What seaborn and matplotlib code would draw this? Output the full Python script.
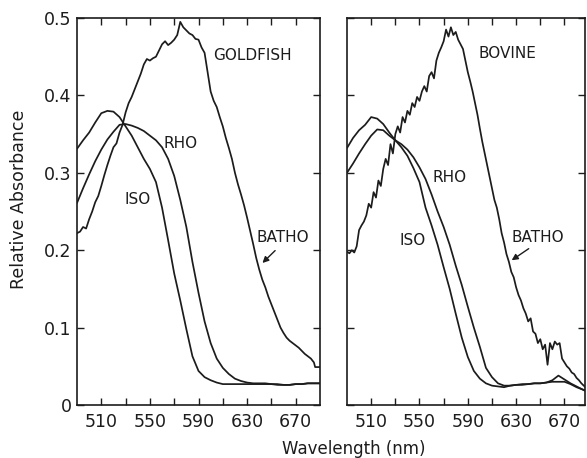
import numpy as np
import pandas as pd
import matplotlib
matplotlib.use("Agg")
import matplotlib.pyplot as plt
import seaborn as sns

# ---------------- data ----------------
# Goldfish panel
gold_x5 = list(range(490, 691, 5))
gold_iso = [0.331, 0.342, 0.352, 0.365, 0.377, 0.380, 0.379, 0.372, 0.360, 0.348,
            0.333, 0.318, 0.305, 0.288, 0.255, 0.213, 0.170, 0.135, 0.098, 0.063,
            0.044, 0.036, 0.032, 0.029, 0.027, 0.027, 0.027, 0.027, 0.027, 0.027,
            0.027, 0.027, 0.027, 0.026, 0.026, 0.026, 0.027, 0.027, 0.028, 0.028, 0.028]
gold_rho = [0.261, 0.280, 0.298, 0.315, 0.330, 0.343, 0.353, 0.362, 0.363, 0.361,
            0.358, 0.354, 0.348, 0.342, 0.333, 0.318, 0.296, 0.265, 0.230, 0.185,
            0.145, 0.108, 0.080, 0.060, 0.048, 0.040, 0.034, 0.031, 0.029, 0.028,
            0.028, 0.028, 0.027, 0.027, 0.026, 0.026, 0.027, 0.027, 0.028, 0.028, 0.028]
gold_batho_x = [490, 492.5, 495, 497.5, 500, 502.5, 505, 507.5, 510, 512.5, 515, 517.5,
                520, 522.5, 525, 527.5, 530, 532.5, 535, 537.5, 540, 542.5, 545, 547.5,
                550, 552.5, 555, 557.5, 560, 562.5, 565, 567.5, 570, 572.5, 575, 577.5,
                580, 582.5, 585, 587.5, 590, 592.5, 595, 597.5, 600, 602.5, 605, 607.5,
                610, 612.5, 615, 617.5, 620, 622.5, 625, 627.5, 630, 632.5, 635, 637.5,
                640, 642.5, 645, 647.5, 650, 652.5, 655, 657.5, 660, 662.5, 665, 667.5,
                670, 672.5, 675, 677.5, 680, 682.5, 685, 686, 690]
gold_batho = [0.222, 0.224, 0.230, 0.228, 0.240, 0.250, 0.262, 0.270, 0.283, 0.297, 0.310, 0.322,
              0.333, 0.338, 0.352, 0.362, 0.378, 0.390, 0.398, 0.408, 0.418, 0.428, 0.440, 0.447,
              0.445, 0.448, 0.450, 0.458, 0.466, 0.470, 0.465, 0.468, 0.472, 0.478, 0.495, 0.488,
              0.484, 0.480, 0.478, 0.473, 0.472, 0.462, 0.455, 0.430, 0.405, 0.393, 0.385, 0.372,
              0.360, 0.345, 0.332, 0.318, 0.300, 0.285, 0.272, 0.258, 0.242, 0.225, 0.208, 0.190,
              0.175, 0.162, 0.152, 0.140, 0.130, 0.120, 0.110, 0.100, 0.093, 0.087, 0.083, 0.080,
              0.077, 0.074, 0.070, 0.066, 0.063, 0.060, 0.055, 0.049, 0.049]

# Bovine panel
bov_x5 = list(range(490, 691, 5))
bov_iso = [0.332, 0.345, 0.355, 0.362, 0.372, 0.370, 0.363, 0.352, 0.342, 0.333,
           0.322, 0.306, 0.288, 0.255, 0.232, 0.207, 0.178, 0.150, 0.118, 0.087,
           0.062, 0.044, 0.034, 0.028, 0.025, 0.024, 0.023, 0.025, 0.026, 0.026,
           0.027, 0.028, 0.028, 0.029, 0.032, 0.038, 0.033, 0.028, 0.024, 0.020, 0.018]
bov_rho = [0.300, 0.312, 0.325, 0.337, 0.348, 0.356, 0.355, 0.348, 0.342, 0.337,
           0.330, 0.320, 0.307, 0.292, 0.272, 0.250, 0.230, 0.207, 0.180, 0.155,
           0.127, 0.100, 0.075, 0.048, 0.036, 0.028, 0.025, 0.025, 0.026, 0.027,
           0.027, 0.028, 0.028, 0.029, 0.030, 0.030, 0.030, 0.027, 0.023, 0.020, 0.016]
bov_batho_x = list(range(490, 691, 2))
bov_batho = [0.198, 0.196, 0.200, 0.197, 0.205, 0.226, 0.232, 0.237, 0.245, 0.260,
             0.255, 0.275, 0.268, 0.290, 0.283, 0.305, 0.318, 0.310, 0.337, 0.325,
             0.350, 0.360, 0.352, 0.372, 0.365, 0.380, 0.375, 0.390, 0.385, 0.398,
             0.393, 0.405, 0.412, 0.405, 0.425, 0.430, 0.422, 0.445, 0.455, 0.462,
             0.470, 0.485, 0.476, 0.488, 0.478, 0.482, 0.472, 0.466, 0.460, 0.445,
             0.430, 0.418, 0.405, 0.390, 0.375, 0.357, 0.340, 0.325, 0.310, 0.295,
             0.280, 0.265, 0.255, 0.240, 0.222, 0.210, 0.195, 0.185, 0.172, 0.165,
             0.152, 0.142, 0.135, 0.125, 0.118, 0.108, 0.112, 0.095, 0.092, 0.080,
             0.085, 0.072, 0.078, 0.052, 0.080, 0.072, 0.082, 0.078, 0.080, 0.060,
             0.055, 0.050, 0.047, 0.042, 0.040, 0.035, 0.032, 0.028, 0.025, 0.022, 0.020]

x_major = [510, 550, 590, 630, 670]
x_minor = [530, 570, 610, 650]
y_ticks = [0, 0.1, 0.2, 0.3, 0.4, 0.5]
y_ticklabels = ["0", "0.1", "0.2", "0.3", "0.4", "0.5"]

# ---------------- style ----------------
sns.set_style("white")
plt.rcParams["font.family"] = ["DejaVu Sans"]
INK = "#1c1c1c"

fig = plt.figure(figsize=(5.87, 4.58), dpi=100)
H = 458.0
W = 587.0
bottom = 1 - 405 / H
height = (405 - 18) / H
ax1 = fig.add_axes([77 / W, bottom, 243 / W, height])
ax2 = fig.add_axes([347 / W, bottom, 238 / W, height])

lw = 1.25
for x, y in [(gold_x5, gold_iso), (gold_x5, gold_rho), (gold_batho_x, gold_batho)]:
    sns.lineplot(x=x, y=y, ax=ax1, color=INK, lw=lw, estimator=None, sort=False)
for x, y in [(bov_x5, bov_iso), (bov_x5, bov_rho), (bov_batho_x, bov_batho)]:
    sns.lineplot(x=x, y=y, ax=ax2, color=INK, lw=lw, estimator=None, sort=False)

for ax, xmax in [(ax1, 690), (ax2, 687)]:
    ax.set_xlim(490, xmax)
    ax.set_ylim(0, 0.5)
    ax.set_xticks(x_major)
    ax.set_xticks(x_minor, minor=True)
    ax.set_yticks(y_ticks)
    for s in ax.spines.values():
        s.set_color(INK)
        s.set_linewidth(1.2)
    ax.tick_params(axis="both", which="both", direction="in", top=True, right=True,
                   bottom=True, left=True, color=INK, width=1.0, length=5,
                   labelsize=12.5, labelcolor=INK)
    ax.tick_params(axis="x", pad=6)
    ax.tick_params(axis="y", pad=4)
    ax.set_xlabel("")
    ax.set_ylabel("")

ax1.set_yticklabels(y_ticklabels)
ax2.set_yticklabels([])

tkw = dict(fontsize=11, color=INK, ha="center", va="center")
ax1.text(634, 0.452, "GOLDFISH", **tkw)
ax1.text(575, 0.338, "RHO", **tkw)
ax1.text(540, 0.265, "ISO", **tkw)
ax1.text(659, 0.217, "BATHO", **tkw)
ax1.annotate("", xy=(641, 0.181), xytext=(654.7, 0.202),
             arrowprops=dict(arrowstyle="-|>", color=INK, lw=1.0, mutation_scale=9))

ax2.text(623, 0.454, "BOVINE", **tkw)
ax2.text(575, 0.294, "RHO", **tkw)
ax2.text(544.7, 0.213, "ISO", **tkw)
ax2.text(647.8, 0.217, "BATHO", **tkw)
ax2.annotate("", xy=(624.4, 0.185), xytext=(642.3, 0.204),
             arrowprops=dict(arrowstyle="-|>", color=INK, lw=1.0, mutation_scale=9))

fig.text(19 / W, 1 - 199 / H, "Relative Absorbance", rotation=90, ha="center", va="center",
         fontsize=12.5, color=INK)
fig.text(353.5 / W, 1 - 449 / H, "Wavelength (nm)", ha="center", va="center",
         fontsize=12, color=INK)

fig.savefig("out.png", dpi=100, facecolor="white")
